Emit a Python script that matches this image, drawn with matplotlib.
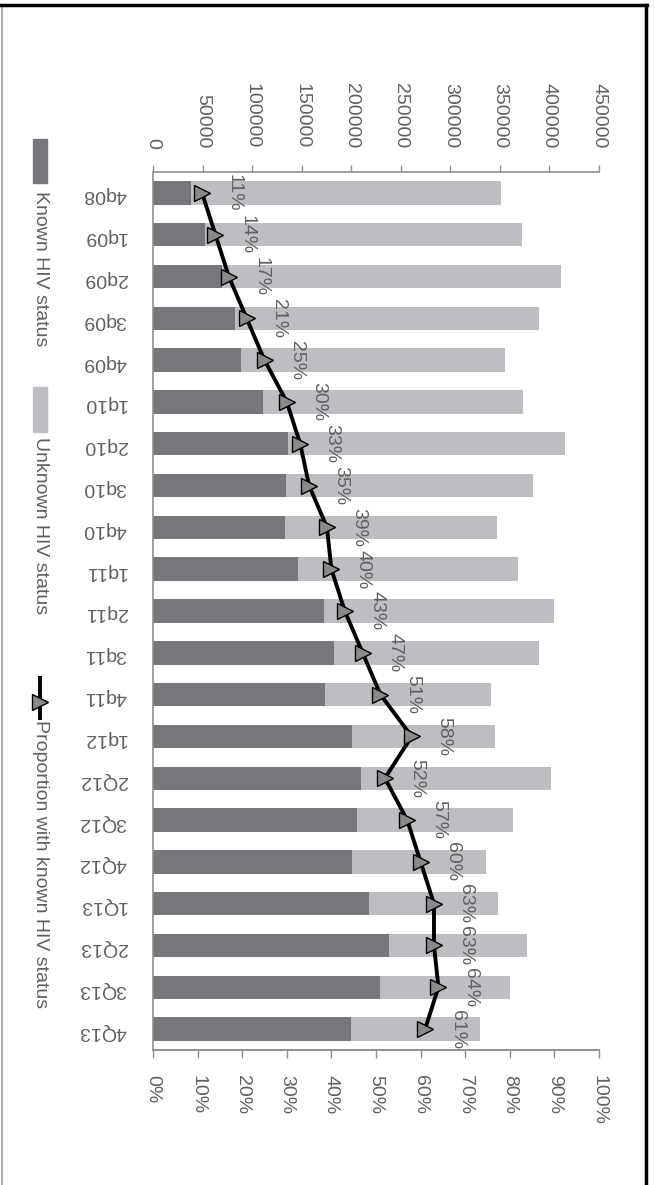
"""Known vs unknown HIV status by quarter, drawn rotated like the scanned figure."""

import matplotlib

matplotlib.use("Agg")
import matplotlib.pyplot as plt
from matplotlib.lines import Line2D
from matplotlib.patches import Rectangle

plt.rcParams["font.family"] = ["Liberation Sans", "DejaVu Sans"]

# Data
quarters = ["4q08", "1q09", "2q09", "3q09", "4q09", "1q10", "2q10", "3q10", "4q10",
            "1q11", "2q11", "3q11", "4q11", "1q12", "2Q12", "3Q12", "4Q12",
            "1Q13", "2Q13", "3Q13", "4Q13"]
known = [38000, 52000, 70000, 83000, 89000, 111000, 136000, 134000, 133000,
         146000, 173000, 183000, 174000, 201000, 210000, 206000, 201000,
         218000, 238000, 229000, 200000]
unknown = [313000, 320000, 342000, 306000, 266000, 262000, 280000, 249000, 214000,
           222000, 232000, 206000, 167000, 144000, 192000, 157000, 135000,
           130000, 139000, 131000, 130000]
pct_known = [11, 14, 17, 21, 25, 30, 33, 35, 39, 40, 43, 47, 51, 58, 52, 57, 60,
             63, 63, 64, 61]
count_ticks = list(range(0, 450001, 50000))
pct_ticks = list(range(0, 101, 10))

DARK = "#76777b"
LIGHT = "#bdbec1"
TEXT = "#606060"
AXIS = "#8f8f8f"
FS = 14

W, H = 655, 1185
fig = plt.figure(figsize=(W / 100, H / 100), dpi=100)
fig.patch.set_facecolor("white")

# axes box in pixels: x 153..599, y 172..1050
ax = fig.add_axes([153 / W, 1 - 1050 / H, (599 - 153) / W, (1050 - 172) / H])
ax2 = ax.twiny()
pos = list(range(len(quarters)))

ax.barh(pos, known, height=0.56, color=DARK, label="Known HIV status")
ax.barh(pos, unknown, left=known, height=0.56, color=LIGHT, label="Unknown HIV status")
ax.set_xlim(0, 450000)
ax.set_ylim(len(quarters) - 0.5, -0.5)

# count axis along the top
ax.xaxis.tick_top()
ax.xaxis.set_label_position("top")
ax.set_xticks(count_ticks)
ax.set_xticklabels([str(t) for t in count_ticks], rotation=-90, fontsize=FS, color=TEXT)
ax.tick_params(axis="x", direction="out", length=5, width=1, color=AXIS, pad=12)
ax.set_yticks(pos)
ax.set_yticklabels(quarters, rotation=180, fontsize=FS, color=TEXT)
ax.tick_params(axis="y", length=0, pad=19)
for side in ["left", "top", "bottom"]:
    ax.spines[side].set_color(AXIS)
    ax.spines[side].set_linewidth(1.2)
ax.spines["right"].set_visible(False)

# percentage axis along the bottom
ax2.plot(pct_known, pos, color="black", linewidth=2.8, marker=">", markersize=11.5,
         markerfacecolor="#8a8a8a", markeredgecolor="black", markeredgewidth=1.0,
         zorder=3)
for p, i in zip(pct_known, pos):
    ax2.annotate(f"{p}%", (p, i), xytext=(23, 0), textcoords="offset points",
                 rotation=-90, ha="center", va="center", fontsize=FS, color=TEXT)
ax2.set_xlim(0, 100)
ax2.xaxis.tick_bottom()
ax2.xaxis.set_label_position("bottom")
ax2.set_xticks(pct_ticks)
ax2.set_xticklabels([f"{t}%" for t in pct_ticks], rotation=-90, fontsize=FS, color=TEXT)
ax2.tick_params(axis="x", direction="out", length=6, width=1, color=AXIS, pad=12)
for side in ["left", "top", "right"]:
    ax2.spines[side].set_visible(False)
ax2.spines["bottom"].set_color(AXIS)
ax2.spines["bottom"].set_linewidth(1.2)

# legend drawn by hand, turned like the rest of the figure
def fx(px):
    return px / W


def fy(py):
    return 1 - py / H


fig.add_artist(Rectangle((fx(33), fy(183)), fx(14), 44 / H, color=DARK,
                         transform=fig.transFigure))
fig.text(fx(40), fy(191), "Known HIV status", rotation=-90, ha="center", va="top",
         fontsize=FS, color=TEXT)
fig.add_artist(Rectangle((fx(33), fy(432)), fx(14), 45 / H, color=LIGHT,
                         transform=fig.transFigure))
fig.text(fx(40), fy(437), "Unknown HIV status", rotation=-90, ha="center", va="top",
         fontsize=FS, color=TEXT)
fig.add_artist(Line2D([fx(40), fx(40)], [fy(678), fy(718)], color="black",
                      linewidth=2.8, transform=fig.transFigure))
fig.add_artist(Line2D([fx(40)], [fy(702)], marker=">", markersize=11,
                      markerfacecolor="#8a8a8a", markeredgecolor="black",
                      transform=fig.transFigure))
fig.text(fx(40), fy(720), "Proportion with known HIV status", rotation=-90,
         ha="center", va="top", fontsize=FS, color=TEXT)

# frame: gray on the left, black and heavier on top and right
fig.add_artist(Line2D([fx(2), fx(2)], [fy(5), 0], color="#b0b0b0", linewidth=1.5,
                      transform=fig.transFigure))
fig.add_artist(Line2D([0, fx(647)], [fy(5), fy(5)], color="black", linewidth=2.5,
                      transform=fig.transFigure))
fig.add_artist(Line2D([fx(646), fx(646)], [fy(5), 0], color="black", linewidth=2.5,
                      transform=fig.transFigure))

fig.savefig("out.png", dpi=100, facecolor="white")
plt.close(fig)
